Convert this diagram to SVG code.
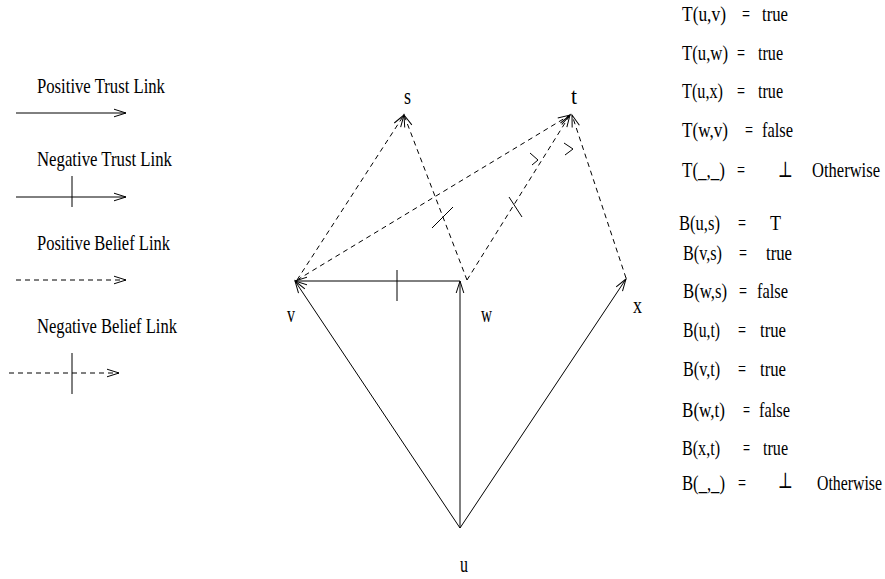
<svg xmlns="http://www.w3.org/2000/svg" width="885" height="579" viewBox="0 0 885 579">
<style>
.t{font-family:"Liberation Serif","Times New Roman","DejaVu Serif",serif;font-size:22px;fill:#000}
.n{font-size:23px}
.l{stroke:#000;stroke-width:1;fill:none}
.d{stroke-dasharray:5 4}
</style>
<defs>
<marker id="ah" markerUnits="userSpaceOnUse" markerWidth="16" markerHeight="12" viewBox="-14 -6 16 12" refX="0" refY="0" orient="auto" overflow="visible">
<path d="M-12,-3.8 L0,0 L-12,3.8" fill="none" stroke="#000" stroke-width="1"/>
</marker>
</defs>
<rect width="885" height="579" fill="#fff"/>

<g id="legend">
<g id="leg-pos-trust">
<text class="t" transform="translate(37,93) scale(0.77,1)" textLength="166.2" lengthAdjust="spacingAndGlyphs">Positive Trust Link</text>
<line class="l" x1="16" y1="113" x2="126" y2="113" marker-end="url(#ah)"/>
</g>
<g id="leg-neg-trust">
<text class="t" transform="translate(37,166) scale(0.77,1)" textLength="175.3" lengthAdjust="spacingAndGlyphs">Negative Trust Link</text>
<line class="l" x1="16" y1="197" x2="126" y2="197" marker-end="url(#ah)"/>
<line class="l" x1="72" y1="176" x2="72" y2="207"/>
</g>
<g id="leg-pos-belief">
<text class="t" transform="translate(37,250) scale(0.77,1)" textLength="172.7" lengthAdjust="spacingAndGlyphs">Positive Belief Link</text>
<line class="l d" x1="16" y1="280" x2="126" y2="280" marker-end="url(#ah)"/>
</g>
<g id="leg-neg-belief">
<text class="t" transform="translate(37,333) scale(0.77,1)" textLength="181.8" lengthAdjust="spacingAndGlyphs">Negative Belief Link</text>
<line class="l d" x1="9" y1="373" x2="119" y2="373" marker-end="url(#ah)"/>
<line class="l" x1="72" y1="353" x2="72" y2="394"/>
</g>
</g>

<g id="connectors">
<line class="l" x1="460" y1="528" x2="295" y2="281" marker-end="url(#ah)"/>
<line class="l" x1="460" y1="528" x2="460" y2="281" marker-end="url(#ah)"/>
<line class="l" x1="460" y1="528" x2="626" y2="279" marker-end="url(#ah)"/>
<line class="l" x1="460" y1="281" x2="295" y2="281" stroke-width="1.5" marker-end="url(#ah)"/>
<line class="l" x1="397" y1="270" x2="397" y2="301"/>
<line class="l d" x1="297" y1="280" x2="404" y2="115" marker-end="url(#ah)"/>
<line class="l d" x1="297" y1="280" x2="570" y2="115" marker-end="url(#ah)"/>
<line class="l d" x1="467" y1="280" x2="404" y2="115" marker-end="url(#ah)"/>
<line class="l" x1="432" y1="228" x2="453" y2="207"/>
<line class="l d" x1="467" y1="280" x2="570" y2="115" marker-end="url(#ah)"/>
<line class="l" x1="509" y1="197" x2="522" y2="217"/>
<line class="l d" x1="626" y1="278" x2="572" y2="115" marker-end="url(#ah)"/>
<polyline class="l" points="530,153 538,160 532,165"/>
<polyline class="l" points="564,143 573,149 565,155"/>
</g>

<g id="node-s"><text class="t n" transform="translate(404,104) scale(0.77,1)" textLength="9.1" lengthAdjust="spacingAndGlyphs">s</text></g>
<g id="node-t"><text class="t n" transform="translate(571,104) scale(0.77,1)" textLength="7.8" lengthAdjust="spacingAndGlyphs">t</text></g>
<g id="node-v"><text class="t n" transform="translate(287,322) scale(0.77,1)" textLength="10.4" lengthAdjust="spacingAndGlyphs">v</text></g>
<g id="node-w"><text class="t n" transform="translate(481,322) scale(0.77,1)" textLength="14.3" lengthAdjust="spacingAndGlyphs">w</text></g>
<g id="node-x"><text class="t n" transform="translate(633,313) scale(0.77,1)" textLength="11.7" lengthAdjust="spacingAndGlyphs">x</text></g>
<g id="node-u"><text class="t n" transform="translate(460,572) scale(0.77,1)" textLength="10.4" lengthAdjust="spacingAndGlyphs">u</text></g>

<g id="table">
<text class="t" transform="translate(682,21) scale(0.77,1)" textLength="57.1" lengthAdjust="spacingAndGlyphs">T(u,v)</text>
<text class="t" transform="translate(742,21) scale(0.77,1)" textLength="10.4" lengthAdjust="spacingAndGlyphs">=</text>
<text class="t" transform="translate(762,21) scale(0.77,1)" textLength="33.8" lengthAdjust="spacingAndGlyphs">true</text>

<text class="t" transform="translate(682,60) scale(0.77,1)" textLength="59.7" lengthAdjust="spacingAndGlyphs">T(u,w)</text>
<text class="t" transform="translate(737,60) scale(0.77,1)" textLength="10.4" lengthAdjust="spacingAndGlyphs">=</text>
<text class="t" transform="translate(758,60) scale(0.77,1)" textLength="32.5" lengthAdjust="spacingAndGlyphs">true</text>

<text class="t" transform="translate(682,98) scale(0.77,1)" textLength="53.2" lengthAdjust="spacingAndGlyphs">T(u,x)</text>
<text class="t" transform="translate(737,98) scale(0.77,1)" textLength="10.4" lengthAdjust="spacingAndGlyphs">=</text>
<text class="t" transform="translate(758,98) scale(0.77,1)" textLength="32.5" lengthAdjust="spacingAndGlyphs">true</text>

<text class="t" transform="translate(682,137) scale(0.77,1)" textLength="59.7" lengthAdjust="spacingAndGlyphs">T(w,v)</text>
<text class="t" transform="translate(745,137) scale(0.77,1)" textLength="10.4" lengthAdjust="spacingAndGlyphs">=</text>
<text class="t" transform="translate(762,137) scale(0.77,1)" textLength="40.3" lengthAdjust="spacingAndGlyphs">false</text>

<text class="t" transform="translate(682,177) scale(0.77,1)" textLength="55.8" lengthAdjust="spacingAndGlyphs">T(_,_)</text>
<text class="t" transform="translate(737,177) scale(0.77,1)" textLength="10.4" lengthAdjust="spacingAndGlyphs">=</text>
<text class="t" transform="translate(778,177) scale(0.77,1)" textLength="19.5" lengthAdjust="spacingAndGlyphs">⊥</text>
<text class="t" transform="translate(812,177) scale(0.77,1)" textLength="88.3" lengthAdjust="spacingAndGlyphs">Otherwise</text>

<text class="t" transform="translate(679,230) scale(0.77,1)" textLength="53.2" lengthAdjust="spacingAndGlyphs">B(u,s)</text>
<text class="t" transform="translate(738,230) scale(0.77,1)" textLength="10.4" lengthAdjust="spacingAndGlyphs">=</text>
<text class="t" transform="translate(770,230) scale(0.77,1)" textLength="14.3" lengthAdjust="spacingAndGlyphs">T</text>

<text class="t" transform="translate(683,260) scale(0.77,1)" textLength="50.6" lengthAdjust="spacingAndGlyphs">B(v,s)</text>
<text class="t" transform="translate(739,260) scale(0.77,1)" textLength="10.4" lengthAdjust="spacingAndGlyphs">=</text>
<text class="t" transform="translate(766,260) scale(0.77,1)" textLength="33.8" lengthAdjust="spacingAndGlyphs">true</text>

<text class="t" transform="translate(683,298) scale(0.77,1)" textLength="57.1" lengthAdjust="spacingAndGlyphs">B(w,s)</text>
<text class="t" transform="translate(739,298) scale(0.77,1)" textLength="10.4" lengthAdjust="spacingAndGlyphs">=</text>
<text class="t" transform="translate(757,298) scale(0.77,1)" textLength="40.3" lengthAdjust="spacingAndGlyphs">false</text>

<text class="t" transform="translate(683,337) scale(0.77,1)" textLength="48.1" lengthAdjust="spacingAndGlyphs">B(u,t)</text>
<text class="t" transform="translate(738,337) scale(0.77,1)" textLength="10.4" lengthAdjust="spacingAndGlyphs">=</text>
<text class="t" transform="translate(760,337) scale(0.77,1)" textLength="33.8" lengthAdjust="spacingAndGlyphs">true</text>

<text class="t" transform="translate(683,376) scale(0.77,1)" textLength="48.1" lengthAdjust="spacingAndGlyphs">B(v,t)</text>
<text class="t" transform="translate(738,376) scale(0.77,1)" textLength="10.4" lengthAdjust="spacingAndGlyphs">=</text>
<text class="t" transform="translate(760,376) scale(0.77,1)" textLength="33.8" lengthAdjust="spacingAndGlyphs">true</text>

<text class="t" transform="translate(682,417) scale(0.77,1)" textLength="55.8" lengthAdjust="spacingAndGlyphs">B(w,t)</text>
<text class="t" transform="translate(743,417) scale(0.77,1)" textLength="9.1" lengthAdjust="spacingAndGlyphs">=</text>
<text class="t" transform="translate(759,417) scale(0.77,1)" textLength="40.3" lengthAdjust="spacingAndGlyphs">false</text>

<text class="t" transform="translate(682,455) scale(0.77,1)" textLength="49.4" lengthAdjust="spacingAndGlyphs">B(x,t)</text>
<text class="t" transform="translate(743,455) scale(0.77,1)" textLength="9.1" lengthAdjust="spacingAndGlyphs">=</text>
<text class="t" transform="translate(763,455) scale(0.77,1)" textLength="32.5" lengthAdjust="spacingAndGlyphs">true</text>

<text class="t" transform="translate(682,490) scale(0.77,1)" textLength="55.8" lengthAdjust="spacingAndGlyphs">B(_,_)</text>
<text class="t" transform="translate(738,490) scale(0.77,1)" textLength="10.4" lengthAdjust="spacingAndGlyphs">=</text>
<text class="t" transform="translate(778,488) scale(0.77,1)" textLength="19.5" lengthAdjust="spacingAndGlyphs">⊥</text>
<text class="t" transform="translate(817,490) scale(0.77,1)" textLength="84.4" lengthAdjust="spacingAndGlyphs">Otherwise</text>
</g>
</svg>
